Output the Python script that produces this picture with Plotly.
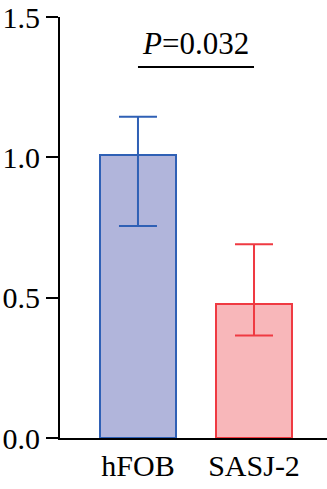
import plotly.graph_objects as go

categories = ["hFOB", "SASJ-2"]
means = [1.01, 0.478]
err_plus = [0.135, 0.212]
err_minus = [0.255, 0.113]
fill_colors = ["#b1b5db", "#f8b7ba"]
line_colors = ["#2f60b5", "#ef3a42"]
p_text = "<i>P</i>=0.032"
sig_y = 1.322
yticks = [0.0, 0.5, 1.0, 1.5]
ytick_text = ["0.0", "0.5", "1.0", "1.5"]

SERIF = "Times New Roman"

xs = list(range(len(categories)))
fig = go.Figure()
for i, c in enumerate(categories):
    fig.add_trace(go.Bar(
        x=[xs[i]], y=[means[i]], width=0.655,
        marker=dict(color=fill_colors[i], line=dict(color=line_colors[i], width=2)),
        error_y=dict(type="data", symmetric=False, array=[err_plus[i]],
                     arrayminus=[err_minus[i]], color=line_colors[i],
                     thickness=2, width=19),
        showlegend=False,
    ))

fig.add_shape(type="line", x0=xs[0], x1=xs[1], y0=sig_y, y1=sig_y,
              xref="x", yref="y", line=dict(color="black", width=2))
fig.add_annotation(x=(xs[0] + xs[1]) / 2, y=sig_y, xref="x", yref="y",
                   text=p_text, showarrow=False, yanchor="bottom", yshift=4,
                   font=dict(family=SERIF, size=31, color="black"))

fig.update_layout(
    width=327, height=489,
    margin=dict(l=60, r=0, t=17, b=51),
    paper_bgcolor="white", plot_bgcolor="white",
    font=dict(family=SERIF, size=30, color="black"),
    bargap=0,
)
fig.update_xaxes(range=[-0.672, 1.629], tickvals=xs, ticktext=categories,
                 showline=True, linecolor="black", linewidth=2, ticks="",
                 showgrid=False, zeroline=False, fixedrange=True,
                 tickfont=dict(family=SERIF, size=30))
fig.update_yaxes(range=[0, 1.5], tickvals=yticks, ticktext=ytick_text,
                 showline=True, linecolor="black", linewidth=2, ticks="outside",
                 ticklen=12, tickwidth=2, tickcolor="black",
                 showgrid=False, zeroline=False, fixedrange=True,
                 tickfont=dict(family=SERIF, size=30))

fig.write_html("out.html", config={"displayModeBar": False})
